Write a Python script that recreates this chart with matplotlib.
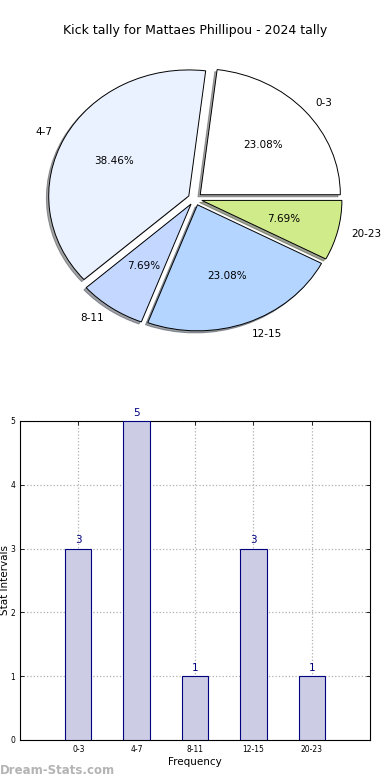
import numpy as np
import matplotlib
matplotlib.use('Agg')
import matplotlib.pyplot as plt

# %% data -----

intervals = ['0-3', '4-7', '8-11', '12-15', '20-23']
counts = [3, 5, 1, 3, 1]
pie_colors = ['#ffffff', '#eaf1ff', '#c4d7ff', '#b3d5ff', '#d0eb8a']
title = 'Kick tally for Mattaes Phillipou - 2024 tally'

# %% plot -----

fig = plt.figure(figsize=(3.9, 7.8), dpi=100)

# pie
ax1 = fig.add_axes([0.051, 0.543, 0.898, 0.404])
wedges, texts, autotexts = ax1.pie(
    counts, labels=intervals, colors=pie_colors, autopct='%.2f%%',
    explode=[0.05] * len(counts), shadow={'ox': -0.012, 'oy': -0.012},
    startangle=0,
    wedgeprops={'edgecolor': 'black', 'linewidth': 0.7},
    textprops={'fontsize': 7.5},
)
ax1.set_aspect('auto')
ax1.set_xlim(-1.25, 1.25)
ax1.set_ylim(-1.25, 1.25)
ax1.set_title(title, fontsize=9, pad=5.5)

# bars
ax2 = fig.add_axes([0.051, 0.0513, 0.898, 0.409])
x = np.arange(len(intervals))
bars = ax2.bar(x, counts, width=0.45, color='#ccccE4', edgecolor='navy',
               linewidth=0.8, zorder=3)
for xi, c in zip(x, counts):
    ax2.text(xi, c + 0.05, str(c), ha='center', va='bottom',
             color='navy', fontsize=7.5)
ax2.set_xlim(-1, 5)
ax2.set_ylim(0, 5)
ax2.set_xticks(x)
ax2.set_xticklabels(intervals)
ax2.set_yticks(range(6))
ax2.tick_params(direction='in', top=True, right=True, labelsize=5.5,
                length=3, width=0.6)
ax2.grid(True, linestyle=':', color='#b0b0b0', linewidth=0.9, zorder=0)
ax2.set_xlabel('Frequency', fontsize=7.5, labelpad=2)
ax2.set_ylabel('Stat Intervals', fontsize=7.5)
ax2.yaxis.set_label_coords(-0.029, 0.5)
for s in ax2.spines.values():
    s.set_linewidth(0.8)

fig.text(0.0, 0.004, 'Dream-Stats.com', color='#b4b4b4', fontsize=8.5,
         fontweight='bold', ha='left', va='bottom')

plt.savefig('out.png', dpi=100)
